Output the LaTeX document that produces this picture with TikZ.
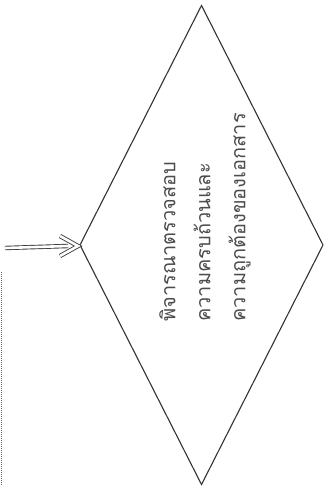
\documentclass[tikz,border=0pt]{standalone}
\usepackage{fontspec}
\newfontfamily\thaifont[Script=Thai]{Loma}
\usetikzlibrary{shapes.geometric,calc}
\begin{document}
\begin{tikzpicture}[x=1pt,y=-1pt,
  edge/.style={draw=black!80, line width=1.1pt, line join=miter},
  hollow/.style={draw=black!75, double=white, double distance=2.6pt, line width=0.9pt},
  lbl/.style={text=black!70, font=\thaifont\fontsize{20}{35}\selectfont, align=left, rotate=90, inner sep=0pt}]
\useasboundingbox (0,0) rectangle (327,486);
\fill[white] (0,0) rectangle (327,486);
\node[diamond, edge, minimum width=243pt, minimum height=479pt, inner sep=0pt, outer sep=0pt] (dec) at (201.5,245) {};
\node[lbl, anchor=west] (txt) at (205,322) {พิจารณาตรวจสอบ\\ความครบถ้วนและ\\ความถูกต้องของเอกสาร};
\coordinate (src) at (5,248);
\coordinate (tip) at ($(dec.west)+(-2,1)$);
\draw[hollow] (src) -- ($(tip)+(-10,0)$);
\draw[hollow] ($(tip)+(-18,-10)$) -- (tip) -- ($(tip)+(-18,10)$);
\draw[black!60, densely dotted, line width=1pt] (1,272) -- (1,486);
\end{tikzpicture}
\end{document}
